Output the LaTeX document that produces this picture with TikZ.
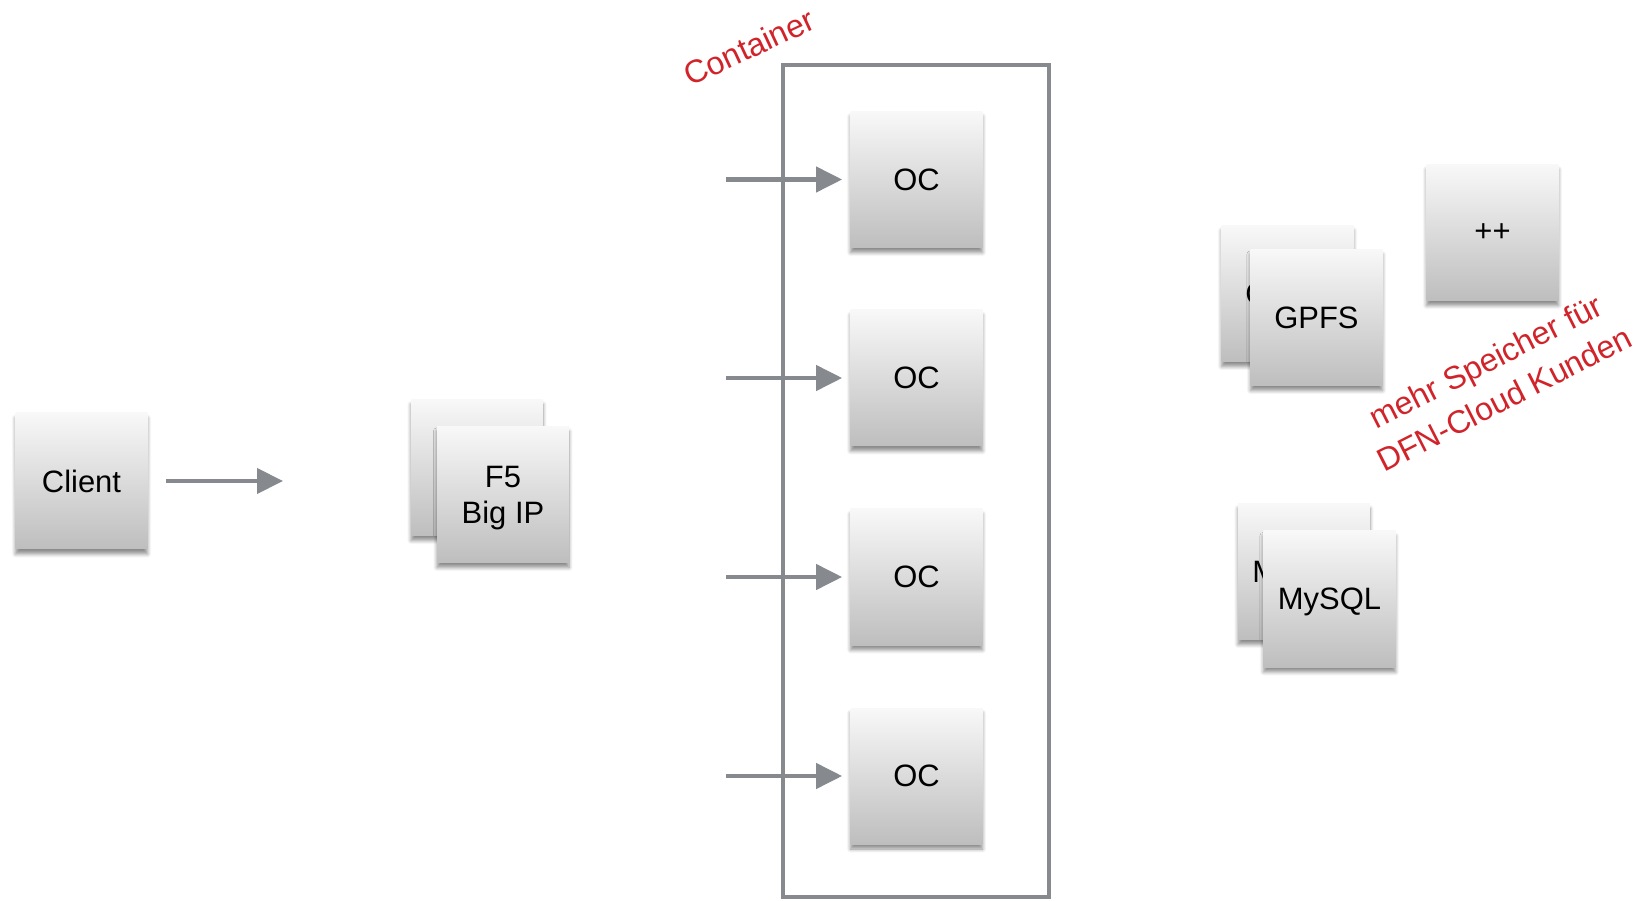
\documentclass[tikz,border=0pt]{standalone}
\usepackage{fontspec}
\setmainfont{Liberation Sans}
\usetikzlibrary{arrows.meta,shadows.blur}
\definecolor{boxtop}{RGB}{248,248,248}
\definecolor{boxbottom}{RGB}{190,190,190}
\definecolor{linegray}{RGB}{134,137,141}
\definecolor{notered}{RGB}{208,36,42}

\begin{document}
\begin{tikzpicture}[shorten >=0.16cm,
		node_style/.style={rectangle, minimum width=2.64cm, minimum height=2.72cm, inner sep=0pt, text depth=0pt, top color=boxtop, bottom color=boxbottom, blur shadow={shadow xshift=0pt, shadow yshift=-0.1cm, shadow blur steps=6, shadow opacity=45}, align=center, font=\fontsize{17.6}{20.5}\selectfont},
		frame_style/.style={rectangle, draw=linegray, line width=2.3pt, minimum width=5.32cm, minimum height=16.64cm},
		note_style/.style={text=notered, align=center, font=\fontsize{18.3}{23.8}\selectfont},
		edge_style/.style={color=linegray, line width=2.4pt, -{Triangle[length=0.52cm, width=0.5cm]}}]
		
		\useasboundingbox (0,0) rectangle (32.98,18);
		
		\node[frame_style] (n12) at (18.32,8.38) {};
		\node[note_style, rotate=25] (n13) at (14.98,17.06) {Container};
		
		\node[node_style] (n0) at (1.63,8.38) {Client};
		\node[node_style] (n1) at (9.54,8.65) {F5\\Big IP};
		\node[node_style] (n2) at (10.06,8.11) {F5\\Big IP};
		\node[node_style] (n3) at (18.33,14.41) {OC};
		\node[node_style] (n4) at (18.33,10.44) {OC};
		\node[node_style] (n5) at (18.33,6.46) {OC};
		\node[node_style] (n6) at (18.33,2.48) {OC};
		\node[node_style] (n7) at (25.75,12.13) {GPFS};
		\node[node_style] (n8) at (26.33,11.65) {GPFS};
		\node[node_style] (n9) at (29.85,13.35) {++};
		\node[node_style] (n10) at (26.08,6.57) {MySQL};
		\node[node_style] (n11) at (26.59,6.02) {MySQL};
		\node[note_style, rotate=27] (n14) at (29.9,10.4) {mehr Speicher für\\DFN-Cloud Kunden};
		
		\coordinate (c0) at (5.82,8.38);
		\coordinate (c1) at (14.52,14.41);
		\coordinate (c2) at (14.52,10.44);
		\coordinate (c3) at (14.52,6.46);
		\coordinate (c4) at (14.52,2.48);
		
		\draw[edge_style, shorten <=0.36cm]  (n0) -- (c0);
		\draw[edge_style]  (c1) -- (n3);
		\draw[edge_style]  (c2) -- (n4);
		\draw[edge_style]  (c3) -- (n5);
		\draw[edge_style]  (c4) -- (n6);
		\end{tikzpicture}
\end{document}
